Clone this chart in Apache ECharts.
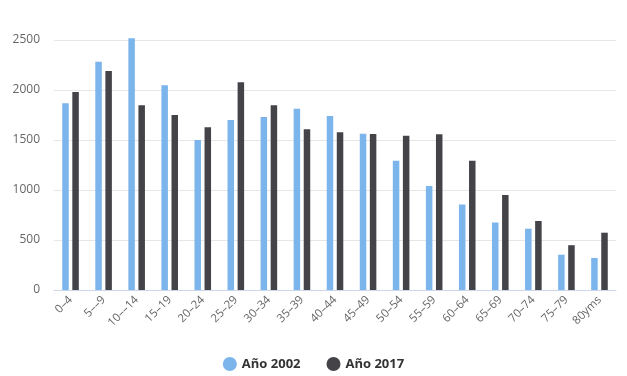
<!DOCTYPE html>
<html>
<head>
<meta charset="utf-8">
<script src="https://cdn.jsdelivr.net/npm/echarts@6/dist/echarts.min.js"></script>
<style>
html,body{margin:0;padding:0;background:#fff;}
#main{width:627px;height:376px;}
</style>
</head>
<body>
<div id="main"></div>
<script>
// grupos de edad
var categorias = ['0–4', '5––9', '10––14', '15–19', '20–24', '25–29', '30–34', '35–39', '40–44',
  '45–49', '50–54', '55–59', '60–64', '65–69', '70–74', '75–79', '80yms'];
var anio2002 = [1867, 2283, 2517, 2047, 1500, 1700, 1730, 1813, 1740, 1563, 1293, 1040, 855, 675, 613, 353, 320];
var anio2017 = [1980, 2190, 1847, 1750, 1627, 2077, 1847, 1607, 1577, 1560, 1543, 1557, 1293, 950, 690, 448, 573];
var nombres = ['Año 2002', 'Año 2017'];

var myChart = echarts.init(document.getElementById('main'));
var option = {
  animation: false,
  textStyle: { fontFamily: 'Open Sans' },
  grid: { left: 54, right: 11, top: 40, bottom: 86 },
  legend: {
    bottom: 0,
    left: 'center',
    icon: 'circle',
    itemWidth: 14,
    itemHeight: 14,
    itemGap: 26,
    textStyle: { color: '#333', fontWeight: 'bold', fontSize: 13, fontFamily: 'Open Sans' },
    data: nombres
  },
  xAxis: {
    type: 'category',
    data: categorias,
    axisLine: { lineStyle: { color: '#ccd6eb' } },
    axisTick: { show: false },
    axisLabel: { rotate: 45, color: '#666', fontSize: 11.5, interval: 0, margin: 8 }
  },
  yAxis: {
    type: 'value',
    min: 0,
    max: 2500,
    interval: 500,
    axisLine: { show: false },
    axisTick: { show: false },
    axisLabel: {
      color: '#666', fontSize: 12, margin: 14,
      formatter: function (v) { return String(v); }
    },
    splitLine: { lineStyle: { color: '#e6e6e6' } }
  },
  series: [
    {
      name: nombres[0],
      type: 'bar',
      data: anio2002,
      barWidth: 6.5,
      barGap: '55%',
      clip: false,
      itemStyle: { color: '#7cb5ec' }
    },
    {
      name: nombres[1],
      type: 'bar',
      data: anio2017,
      barWidth: 6.5,
      clip: false,
      itemStyle: { color: '#434348' }
    }
  ]
};
myChart.setOption(option);
</script>
</body>
</html>
